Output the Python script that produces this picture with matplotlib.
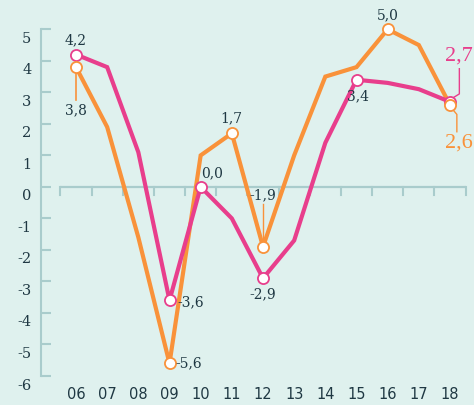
import matplotlib
matplotlib.use("Agg")
import matplotlib.pyplot as plt
from matplotlib.transforms import ScaledTranslation

years = ["06", "07", "08", "09", "10", "11", "12", "13", "14", "15", "16", "17", "18"]
pink_vals = [4.2, 3.8, 1.1, -3.6, 0.0, -1.0, -2.9, -1.7, 1.4, 3.4, 3.3, 3.1, 2.7]
orange_vals = [3.8, 1.9, -1.6, -5.6, 1.0, 1.7, -1.9, 1.0, 3.5, 3.8, 5.0, 4.5, 2.6]
y_ticks = [5, 4, 3, 2, 1, 0, -1, -2, -3, -4, -5, -6]

BG = "#dff1ee"
PINK = "#e83e8c"
ORANGE = "#f9923a"
AXC = "#a9cccc"
TXT = "#1f3843"
SERIF = "DejaVu Serif"

W, H = 474, 405
fig = plt.figure(figsize=(W / 100, H / 100), dpi=100, facecolor=BG)
ax = fig.add_axes([41 / W, (H - 376) / H, (W - 41) / W, 376 / H])
ax.set_facecolor(BG)
x = list(range(len(years)))
ax.set_xlim(-1.123, 12.77)
ax.set_ylim(-6, 5.93)

for s in ["top", "right", "bottom"]:
    ax.spines[s].set_visible(False)
ax.spines["left"].set_color(AXC)
ax.spines["left"].set_linewidth(1.5)
ax.spines["left"].set_bounds(-6, 5)
ax.set_yticks(y_ticks)
ax.set_yticklabels([str(v) for v in y_ticks], fontfamily=SERIF, fontsize=10.5, color=TXT)
ax.tick_params(axis="y", direction="in", length=7, width=1.5, color=AXC, pad=7)
off = ScaledTranslation(0, -8 / 100, fig.dpi_scale_trans)
for t in ax.get_yticklabels():
    t.set_transform(t.get_transform() + off)
ax.set_xticks(x)
ax.set_xticklabels(years, fontsize=10.5, color=TXT)
ax.tick_params(axis="x", length=0, pad=8)

# zero line with downward ticks between categories
ax.plot([-0.5, 12.5], [0, 0], color=AXC, lw=1.6, zorder=1, solid_capstyle="butt")
for i in range(len(years) + 1):
    ax.plot([i - 0.5, i - 0.5], [0, -0.25], color=AXC, lw=1.5, zorder=1)

ax.plot(x, orange_vals, color=ORANGE, lw=3, zorder=3, solid_joinstyle="miter")
ax.plot(x, pink_vals, color=PINK, lw=3, zorder=4, solid_joinstyle="miter")

def mark(i, vals, color):
    ax.plot([x[i]], [vals[i]], marker="o", ms=8, mfc="white", mec=color, mew=1.3, zorder=6)

def fmt(v):
    return f"{v:.1f}".replace(".", ",")

lab = dict(fontfamily=SERIF, fontsize=10, color=TXT, zorder=7)

for i in [0, 3, 4, 6, 9, 12]:
    mark(i, pink_vals, PINK)
for i in [0, 3, 5, 6, 10, 12]:
    mark(i, orange_vals, ORANGE)

ax.text(x[0], pink_vals[0] + 0.22, fmt(pink_vals[0]), ha="center", va="bottom", **lab)
ax.plot([x[0], x[0]], [orange_vals[0], orange_vals[0] - 1.05], color=ORANGE, lw=1.2, zorder=2)
ax.text(x[0], orange_vals[0] - 1.15, fmt(orange_vals[0]), ha="center", va="top", **lab)
ax.text(x[3] + 0.25, pink_vals[3] - 0.05, fmt(pink_vals[3]), ha="left", va="center", **lab)
ax.text(x[3] + 0.18, orange_vals[3], fmt(orange_vals[3]), ha="left", va="center", **lab)
ax.text(x[4] + 0.35, pink_vals[4] + 0.22, fmt(pink_vals[4]), ha="center", va="bottom", **lab)
ax.text(x[5], orange_vals[5] + 0.25, fmt(orange_vals[5]), ha="center", va="bottom", **lab)
ax.plot([x[6], x[6]], [orange_vals[6] + 0.2, orange_vals[6] + 1.35], color=ORANGE, lw=1.0, zorder=2)
ax.text(x[6], orange_vals[6] + 1.4, fmt(orange_vals[6]), ha="center", va="bottom", **lab)
ax.text(x[6], pink_vals[6] - 0.3, fmt(pink_vals[6]), ha="center", va="top", **lab)
ax.text(x[9] + 0.05, pink_vals[9] - 0.3, fmt(pink_vals[9]), ha="center", va="top", **lab)
ax.text(x[10], orange_vals[10] + 0.22, fmt(orange_vals[10]), ha="center", va="bottom", **lab)

# end labels
BIG = "Liberation Serif"
ax.plot([x[12] + 0.05, x[12] + 0.3, x[12] + 0.3],
        [pink_vals[12] + 0.1, pink_vals[12] + 0.25, pink_vals[12] + 1.05], color=PINK, lw=1.0, zorder=5)
ax.text(x[12] + 0.3, pink_vals[12] + 1.15, fmt(pink_vals[12]), ha="center", va="bottom",
        fontfamily=BIG, fontsize=16, color=PINK)
ax.plot([x[12] + 0.05, x[12] + 0.22, x[12] + 0.22],
        [orange_vals[12] - 0.1, orange_vals[12] - 0.3, orange_vals[12] - 0.85], color=ORANGE, lw=1.0, zorder=5)
ax.text(x[12] + 0.3, orange_vals[12] - 0.9, fmt(orange_vals[12]), ha="center", va="top",
        fontfamily=BIG, fontsize=16, color=ORANGE)

fig.savefig("out.png", dpi=100, facecolor=BG)
